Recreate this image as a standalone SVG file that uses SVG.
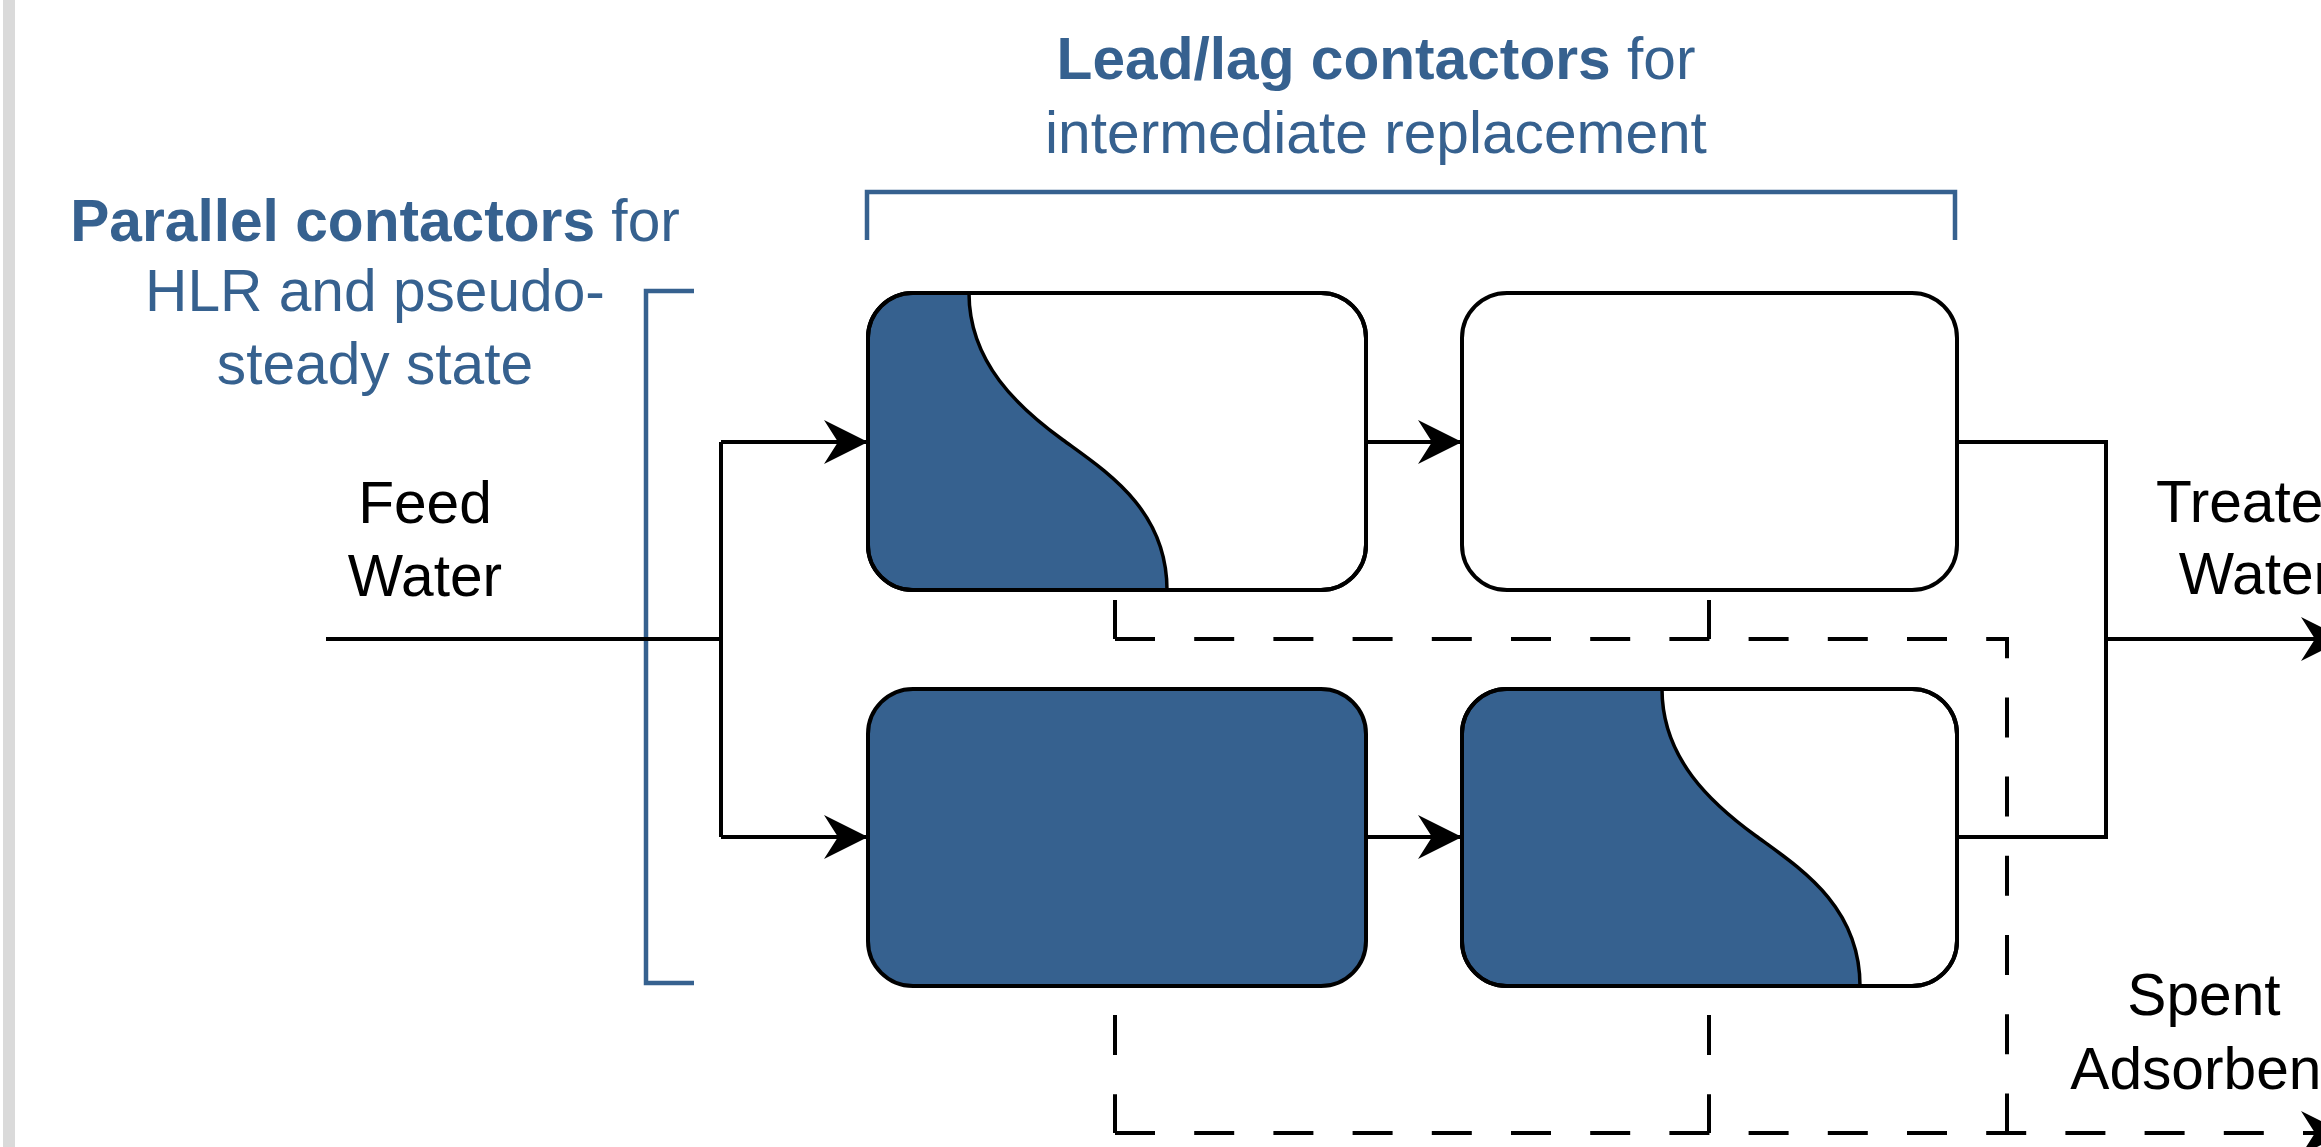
<svg xmlns="http://www.w3.org/2000/svg" width="2321" height="1147" viewBox="0 0 2321 1147">
<style>
text{font-family:"Liberation Sans",Arial,sans-serif;font-size:58.67px;text-anchor:middle}
.blue{fill:#36618f}
.blk{fill:#000}
.br{fill:none;stroke:#36618f;stroke-width:4.5}
.ln{fill:none;stroke:#000;stroke-width:4}
.dash{fill:none;stroke:#000;stroke-width:4;stroke-dasharray:40 39.2}
.box{fill:#fff;stroke:#000;stroke-width:4}
.boxo{fill:none;stroke:#000;stroke-width:4}
.fill{fill:#36618f;stroke:#000;stroke-width:3.5}
</style>
<defs>
<marker id="arr" viewBox="0 0 44 44" refX="44" refY="22" markerWidth="44" markerHeight="44" markerUnits="userSpaceOnUse" orient="auto">
<path d="M0,0 L44,22 L0,44 L14,22 Z" fill="#000"/>
</marker>
</defs>
<rect x="3" y="0" width="12" height="1147" fill="#dadada"/>

<g id="label-parallel">
<text x="375" y="241" class="blue"><tspan font-weight="bold">Parallel contactors</tspan> for</text>
<text x="375" y="311" class="blue">HLR and pseudo-</text>
<text x="375" y="384" class="blue">steady state</text>
<path class="br" d="M694,291 H646 V983 H694"/>
</g>
<g id="label-leadlag">
<text x="1376" y="79" class="blue"><tspan font-weight="bold">Lead/lag contactors</tspan> for</text>
<text x="1376" y="153" class="blue">intermediate replacement</text>
<path class="br" d="M867,240 V192 H1955 V240"/>
</g>
<g id="label-feed">
<text x="425" y="523" class="blk">Feed</text>
<text x="425" y="596" class="blk">Water</text>
</g>
<g id="label-treated">
<text x="2256" y="522" class="blk">Treated</text>
<text x="2256" y="594" class="blk">Water</text>
</g>
<g id="label-spent">
<text x="2204" y="1015" class="blk">Spent</text>
<text x="2204" y="1089" class="blk">Adsorbent</text>
</g>

<g id="connectors">
<path class="ln" d="M326,639 H721"/>
<path class="ln" d="M721,442 V837"/>
<path class="ln" d="M721,442 H868" marker-end="url(#arr)"/>
<path class="ln" d="M721,837 H868" marker-end="url(#arr)"/>
<path class="ln" d="M1366,442 H1462" marker-end="url(#arr)"/>
<path class="ln" d="M1366,837 H1462" marker-end="url(#arr)"/>
<path class="ln" d="M1957,442 H2106 V837 H1957"/>
<path class="ln" d="M2106,639 H2345" marker-end="url(#arr)"/>
<path class="dash" d="M1115,600 V639"/>
<path class="dash" d="M1709,600 V639"/>
<path class="dash" d="M1115,639 H2007 V1133"/>
<path class="dash" d="M1115,1015 V1133"/>
<path class="dash" d="M1709,1015 V1133"/>
<path class="dash" d="M1115,1133 H2345"/>
<path d="M2301,1111 L2345,1133 L2301,1155 L2315,1133 Z" fill="#000"/>
</g>

<g id="contactor-1">
<rect class="box" x="868" y="293" width="498" height="297" rx="45"/>
<path class="fill" d="M969,293 C969,363 1019,408 1063,440 C1107,472 1167,510 1167,590 H913 A45,45 0 0 1 868,545 V338 A45,45 0 0 1 913,293 Z"/>
<rect class="boxo" x="868" y="293" width="498" height="297" rx="45"/>
</g>
<g id="contactor-2">
<rect class="box" x="1462" y="293" width="495" height="297" rx="45"/>
</g>
<g id="contactor-3">
<rect class="fill" x="868" y="689" width="498" height="297" rx="45" style="stroke-width:4"/>
</g>
<g id="contactor-4">
<rect class="box" x="1462" y="689" width="495" height="297" rx="45"/>
<path class="fill" d="M1662,689 C1662,759 1712,804 1756,836 C1800,868 1860,906 1860,986 H1507 A45,45 0 0 1 1462,941 V734 A45,45 0 0 1 1507,689 Z"/>
<rect class="boxo" x="1462" y="689" width="495" height="297" rx="45"/>
</g>
</svg>
